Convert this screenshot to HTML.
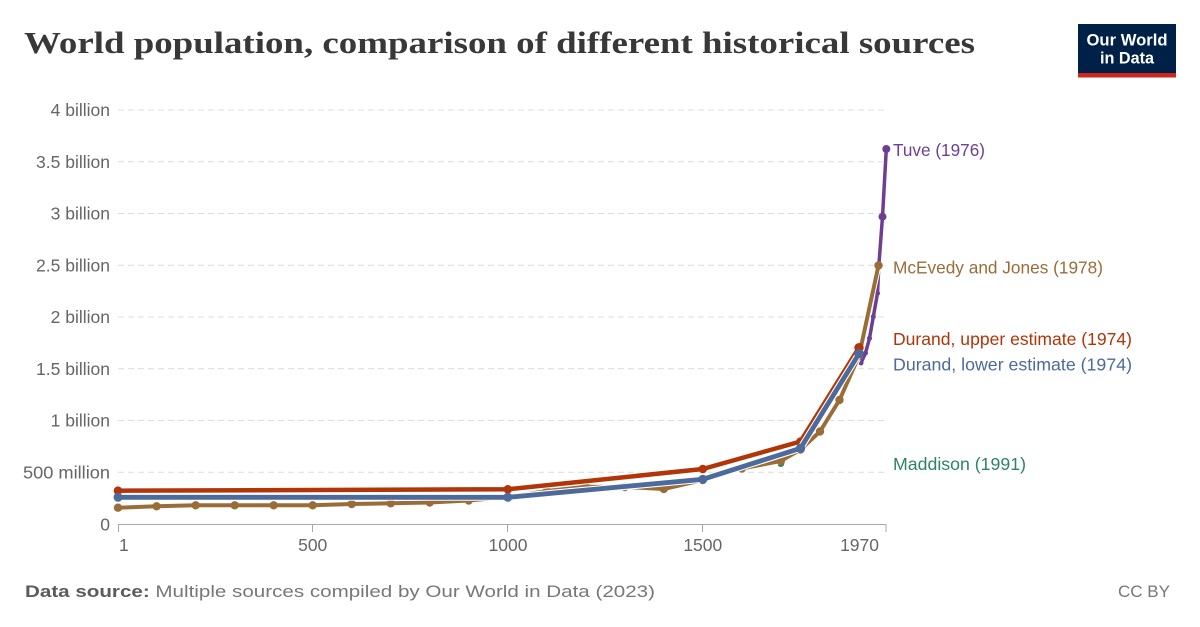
<!DOCTYPE html>
<html>
<head>
<meta charset="utf-8">
<style>
html,body{margin:0;padding:0;background:#fff;}
svg{display:block;}
</style>
</head>
<body>
<svg width="1200" height="627" viewBox="0 0 1200 627" xmlns="http://www.w3.org/2000/svg" font-family="'Liberation Sans', Arial, sans-serif">
<rect x="0" y="0" width="1200" height="627" fill="#fff"/>

<!-- Title -->
<text x="24" y="53" style="font-family:'Liberation Serif',serif;font-weight:bold" font-size="31" fill="#383838" textLength="951" lengthAdjust="spacingAndGlyphs">World population, comparison of different historical sources</text>

<!-- Logo -->
<rect x="1078" y="24" width="98" height="50" fill="#002147"/>
<rect x="1078" y="73" width="98" height="4.5" fill="#ce261e"/>
<text x="1127" y="45.7" text-anchor="middle" font-size="17" font-weight="bold" fill="#fff" textLength="81" lengthAdjust="spacingAndGlyphs">Our World</text>
<text x="1127" y="63.3" text-anchor="middle" font-size="17" font-weight="bold" fill="#fff" textLength="54" lengthAdjust="spacingAndGlyphs">in Data</text>

<!-- Gridlines -->
<g stroke="#dcdcdc" stroke-width="1" stroke-dasharray="6,4">
<line x1="118" y1="110" x2="886" y2="110"/>
<line x1="118" y1="161.75" x2="886" y2="161.75"/>
<line x1="118" y1="213.5" x2="886" y2="213.5"/>
<line x1="118" y1="265.25" x2="886" y2="265.25"/>
<line x1="118" y1="317" x2="886" y2="317"/>
<line x1="118" y1="368.75" x2="886" y2="368.75"/>
<line x1="118" y1="420.5" x2="886" y2="420.5"/>
<line x1="118" y1="472.25" x2="886" y2="472.25"/>
</g>

<!-- Y axis labels -->
<g font-size="17.5" fill="#666" text-anchor="end">
<text x="110" y="116">4 billion</text>
<text x="110" y="167.75">3.5 billion</text>
<text x="110" y="219.5">3 billion</text>
<text x="110" y="271.25">2.5 billion</text>
<text x="110" y="323">2 billion</text>
<text x="110" y="374.75">1.5 billion</text>
<text x="110" y="426.5">1 billion</text>
<text x="110" y="478.25" textLength="87" lengthAdjust="spacingAndGlyphs">500 million</text>
<text x="110" y="530.5">0</text>
</g>

<!-- X axis -->
<line x1="118" y1="524.5" x2="886.5" y2="524.5" stroke="#a8a8a8" stroke-width="1"/>
<g stroke="#a8a8a8" stroke-width="1">
<line x1="118.5" y1="524" x2="118.5" y2="532"/>
<line x1="312.5" y1="524" x2="312.5" y2="532"/>
<line x1="507.5" y1="524" x2="507.5" y2="532"/>
<line x1="702.5" y1="524" x2="702.5" y2="532"/>
<line x1="886" y1="524" x2="886" y2="532"/>
</g>
<g font-size="17.5" fill="#666">
<text x="119" y="551">1</text>
<text x="312.7" y="551" text-anchor="middle">500</text>
<text x="508" y="551" text-anchor="middle">1000</text>
<text x="702.8" y="551" text-anchor="middle">1500</text>
<text x="879" y="551" text-anchor="end">1970</text>
</g>

<!-- Maddison (green) -->
<circle cx="780.8" cy="463.5" r="3.5" fill="#2c8465"/>

<!-- Tuve (purple) -->
<polyline fill="none" stroke="#fff" stroke-width="5.5" stroke-linejoin="round" points="861,363 865.5,353 869.5,338.3 873.3,316.7 877.5,293.3 878.8,266 882.5,216.7 886.3,149"/>
<polyline fill="none" stroke="#6d3e91" stroke-width="3.5" stroke-linejoin="round" points="861,363 865.5,353 869.5,338.3 873.3,316.7 877.5,293.3 878.8,266 882.5,216.7 886.3,149"/>
<g fill="#6d3e91">
<circle cx="861" cy="363" r="2.5"/>
<circle cx="865.5" cy="353" r="2.5"/>
<circle cx="869.5" cy="338.3" r="2.5"/>
<circle cx="873.3" cy="316.7" r="2.5"/>
<circle cx="877.5" cy="293.3" r="2.5"/>
<circle cx="882.5" cy="216.7" r="4"/>
<circle cx="886.3" cy="149" r="4"/>
</g>

<!-- McEvedy (brown) -->
<polyline fill="none" stroke="#fff" stroke-width="6" stroke-linejoin="round" points="118,507.7 156.6,506.3 195.7,505.3 234.7,505.3 273.7,505.3 312.7,505.3 351.7,504 390.7,503.3 429.7,502.5 468.7,500.5 507.8,497 546.8,491 585.8,486.7 624.8,487 663.8,489 702.8,480 741.8,468.5 780.8,461 800.5,449.5 820,431.5 839.5,400 859,356 878.5,265.5"/>
<polyline fill="none" stroke="#9a6d38" stroke-width="4" stroke-linejoin="round" points="118,507.7 156.6,506.3 195.7,505.3 234.7,505.3 273.7,505.3 312.7,505.3 351.7,504 390.7,503.3 429.7,502.5 468.7,500.5 507.8,497 546.8,491 585.8,486.7 624.8,487 663.8,489 702.8,480 741.8,468.5 780.8,461 800.5,449.5 820,431.5 839.5,400 859,356 878.5,265.5"/>
<g fill="#9a6d38">
<circle cx="118" cy="507.7" r="4.2"/>
<circle cx="156.6" cy="506.3" r="4.2"/>
<circle cx="195.7" cy="505.3" r="4.2"/>
<circle cx="234.7" cy="505.3" r="4.2"/>
<circle cx="273.7" cy="505.3" r="4.2"/>
<circle cx="312.7" cy="505.3" r="4.2"/>
<circle cx="351.7" cy="504" r="4.2"/>
<circle cx="390.7" cy="503.3" r="4.2"/>
<circle cx="429.7" cy="502.5" r="4.2"/>
<circle cx="468.7" cy="500.5" r="4.2"/>
<circle cx="507.8" cy="497" r="4.2"/>
<circle cx="546.8" cy="491" r="4.2"/>
<circle cx="585.8" cy="486.7" r="4.2"/>
<circle cx="624.8" cy="487" r="4.2"/>
<circle cx="663.8" cy="489" r="4.2"/>
<circle cx="702.8" cy="480" r="4.2"/>
<circle cx="741.8" cy="468.5" r="4.2"/>
<circle cx="780.8" cy="461" r="4.2"/>
<circle cx="800.5" cy="449.5" r="4.2"/>
<circle cx="820" cy="431.5" r="4.2"/>
<circle cx="839.5" cy="400" r="4.2"/>
<circle cx="859" cy="356" r="4.2"/>
<circle cx="878.5" cy="265.5" r="4.2"/>
</g>

<!-- Durand upper (red) -->
<polyline fill="none" stroke="#fff" stroke-width="6.5" stroke-linejoin="round" points="118,490.7 507.8,489.3 702.8,469 800.5,441.5 859,347.7"/>
<polyline fill="none" stroke="#b13507" stroke-width="4.5" stroke-linejoin="round" points="118,490.7 507.8,489.3 702.8,469 800.5,441.5 859,347.7"/>
<g fill="#b13507">
<circle cx="118" cy="490.7" r="4.3"/>
<circle cx="507.8" cy="489.3" r="4.3"/>
<circle cx="702.8" cy="469" r="4.3"/>
<circle cx="800.5" cy="441.5" r="4.3"/>
<circle cx="859" cy="347.7" r="4.7"/>
</g>

<!-- Durand lower (blue) -->
<polyline fill="none" stroke="#fff" stroke-width="7" stroke-linejoin="round" points="118,497.3 507.8,497.3 702.8,479.3 800.5,448.3 859,353.7"/>
<polyline fill="none" stroke="#4c6a9c" stroke-width="4.8" stroke-linejoin="round" points="118,497.3 507.8,497.3 702.8,479.3 800.5,448.3 859,353.7"/>
<g fill="#4c6a9c">
<circle cx="118" cy="497.3" r="4.5"/>
<circle cx="507.8" cy="497.3" r="4.5"/>
<circle cx="702.8" cy="479.3" r="4.5"/>
<circle cx="800.5" cy="448.3" r="4.7"/>
<circle cx="859" cy="353.7" r="4.7"/>
</g>

<!-- Series labels -->
<g font-size="17.5">
<text x="893" y="156" fill="#6d3e91" textLength="92" lengthAdjust="spacingAndGlyphs">Tuve (1976)</text>
<text x="893" y="273.3" fill="#9a6d38" textLength="210" lengthAdjust="spacingAndGlyphs">McEvedy and Jones (1978)</text>
<text x="893" y="345" fill="#b13507" textLength="239" lengthAdjust="spacingAndGlyphs">Durand, upper estimate (1974)</text>
<text x="893" y="370.7" fill="#4c6a9c" textLength="239" lengthAdjust="spacingAndGlyphs">Durand, lower estimate (1974)</text>
<text x="893" y="470" fill="#2c8465" textLength="133" lengthAdjust="spacingAndGlyphs">Maddison (1991)</text>
</g>

<!-- Footer -->
<text x="25" y="597" font-size="17" fill="#777" textLength="630" lengthAdjust="spacingAndGlyphs"><tspan font-weight="bold" fill="#5b5b5b">Data source:</tspan> Multiple sources compiled by Our World in Data (2023)</text>
<text x="1170" y="597" font-size="17" fill="#777" text-anchor="end">CC BY</text>
</svg>
</body>
</html>
